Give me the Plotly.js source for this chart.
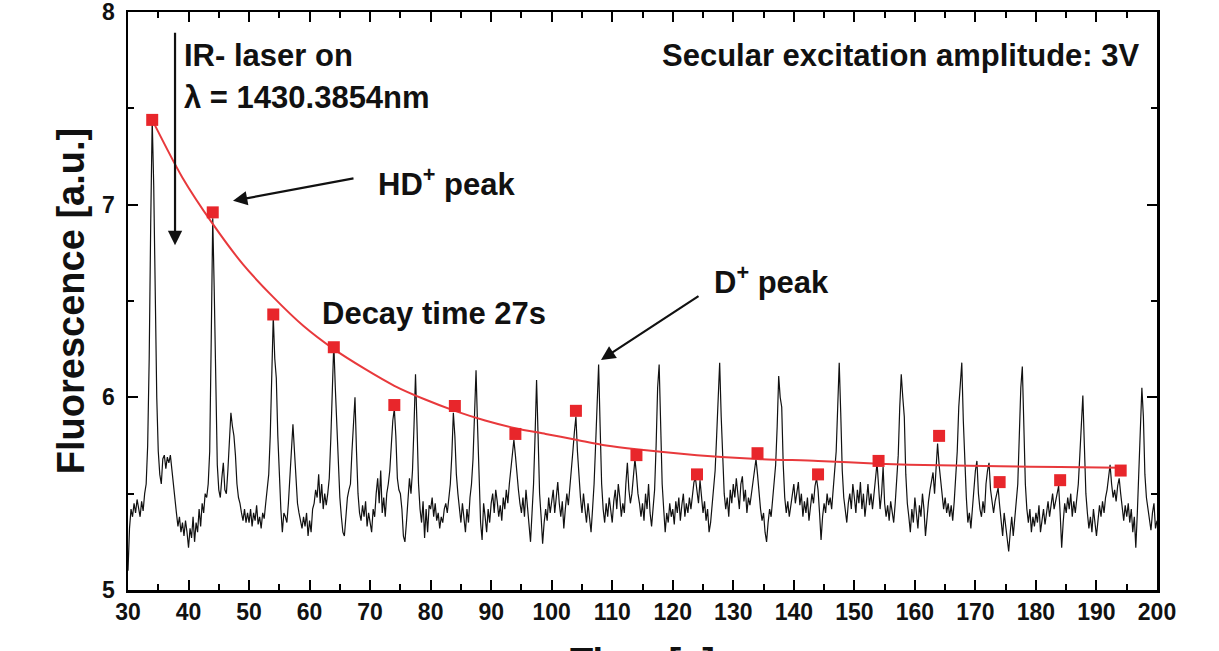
<!DOCTYPE html>
<html>
<head>
<meta charset="utf-8">
<script src="https://cdn.plot.ly/plotly-3.0.1.min.js"></script>
<style>html,body{margin:0;padding:0;background:#fff;}#chart{width:1219px;height:651px;}</style>
</head>
<body>
<div id="chart"></div>
<script>
const signalStart = 30;
const signalStep = 0.25;
const signal = [
5.10,5.32,5.42,5.38,5.45,5.40,5.47,5.43,5.38,5.46,5.41,5.50,5.55,5.75,6.20,6.90,7.44,7.10,6.50,6.00,
5.72,5.60,5.55,5.68,5.70,5.63,5.69,5.66,5.70,5.62,5.55,5.45,5.40,5.33,5.38,5.30,5.35,5.28,5.36,5.30,
5.22,5.32,5.27,5.38,5.25,5.35,5.30,5.42,5.33,5.45,5.40,5.50,5.48,5.55,5.72,6.30,6.93,6.55,5.95,5.65,
5.52,5.48,5.58,5.66,5.52,5.50,5.62,5.78,5.92,5.85,5.80,5.70,5.55,5.48,5.45,5.40,5.36,5.42,5.35,5.40,
5.35,5.42,5.33,5.40,5.36,5.44,5.34,5.38,5.32,5.40,5.37,5.45,5.52,5.60,5.80,6.15,6.42,6.20,6.10,5.80,
5.55,5.42,5.30,5.40,5.38,5.35,5.45,5.60,5.78,5.86,5.72,5.55,5.45,5.40,5.35,5.32,5.38,5.33,5.40,5.28,
5.36,5.30,5.42,5.45,5.52,5.48,5.60,5.45,5.55,5.42,5.50,5.44,5.50,5.58,5.78,6.10,6.28,6.05,5.85,5.58,
5.48,5.38,5.30,5.28,5.38,5.48,5.52,5.55,5.72,5.88,6.00,5.72,5.50,5.40,5.36,5.44,5.38,5.46,5.33,5.40,
5.35,5.30,5.42,5.38,5.50,5.58,5.45,5.62,5.40,5.48,5.38,5.50,5.55,5.62,5.75,5.88,5.94,5.80,5.58,5.52,
5.50,5.42,5.28,5.25,5.35,5.45,5.58,5.50,5.62,5.85,6.12,5.85,5.55,5.42,5.35,5.46,5.27,5.42,5.30,5.44,
5.42,5.48,5.38,5.45,5.36,5.40,5.32,5.38,5.35,5.42,5.45,5.40,5.50,5.55,5.70,5.92,5.80,5.60,5.50,5.42,
5.35,5.45,5.38,5.30,5.42,5.35,5.48,5.55,5.68,5.90,6.14,5.85,5.55,5.35,5.26,5.45,5.38,5.30,5.42,5.35,
5.45,5.50,5.40,5.52,5.46,5.38,5.44,5.36,5.48,5.42,5.52,5.45,5.55,5.62,5.72,5.78,5.70,5.60,5.52,5.45,
5.40,5.48,5.38,5.52,5.44,5.35,5.25,5.40,5.55,5.80,6.09,5.80,5.50,5.38,5.24,5.35,5.42,5.36,5.48,5.40,
5.45,5.52,5.40,5.48,5.56,5.45,5.38,5.46,5.32,5.42,5.50,5.44,5.55,5.62,5.72,5.82,5.90,5.72,5.58,5.48,
5.40,5.50,5.42,5.35,5.45,5.38,5.30,5.42,5.55,5.75,6.00,6.17,5.85,5.55,5.42,5.35,5.45,5.38,5.48,5.40,
5.35,5.46,5.52,5.42,5.55,5.48,5.38,5.45,5.40,5.55,5.66,5.52,5.45,5.50,5.58,5.68,5.60,5.50,5.45,5.38,
5.45,5.36,5.50,5.42,5.55,5.40,5.33,5.44,5.52,5.75,6.05,6.17,5.82,5.55,5.42,5.30,5.40,5.35,5.45,5.38,
5.42,5.34,5.46,5.40,5.48,5.36,5.44,5.50,5.38,5.45,5.40,5.48,5.42,5.50,5.56,5.58,5.50,5.45,5.57,5.48,
5.40,5.46,5.36,5.42,5.30,5.35,5.44,5.52,5.62,5.80,6.05,6.18,5.90,5.65,5.50,5.42,5.48,5.38,5.52,5.45,
5.55,5.48,5.58,5.50,5.42,5.55,5.59,5.46,5.52,5.40,5.48,5.44,5.50,5.55,5.62,5.68,5.60,5.50,5.42,5.36,
5.40,5.30,5.25,5.35,5.42,5.38,5.48,5.55,5.65,5.85,6.11,6.00,5.95,5.65,5.48,5.40,5.46,5.38,5.44,5.50,
5.55,5.45,5.52,5.56,5.44,5.50,5.38,5.46,5.40,5.48,5.36,5.44,5.50,5.45,5.54,5.58,5.52,5.40,5.26,5.38,
5.45,5.40,5.50,5.44,5.48,5.42,5.52,5.60,5.72,5.95,6.18,5.92,5.62,5.48,5.40,5.35,5.45,5.50,5.42,5.55,
5.48,5.40,5.52,5.45,5.56,5.42,5.50,5.38,5.46,5.55,5.44,5.50,5.42,5.52,5.58,5.66,5.55,5.42,5.50,5.64,
5.45,5.38,5.44,5.36,5.46,5.40,5.35,5.45,5.55,5.70,5.95,6.12,6.00,5.90,5.60,5.45,5.38,5.30,5.42,5.35,
5.48,5.40,5.32,5.44,5.38,5.50,5.42,5.28,5.40,5.46,5.52,5.58,5.61,5.50,5.62,5.76,5.65,5.58,5.48,5.42,
5.48,5.40,5.45,5.38,5.44,5.36,5.46,5.58,5.72,5.95,6.10,6.18,5.88,5.62,5.48,5.35,5.40,5.32,5.45,5.52,
5.62,5.67,5.50,5.42,5.38,5.46,5.40,5.55,5.62,5.66,5.52,5.45,5.40,5.46,5.50,5.53,5.44,5.36,5.28,5.40,
5.32,5.25,5.20,5.30,5.38,5.28,5.36,5.44,5.55,5.80,6.05,6.16,5.85,5.55,5.42,5.35,5.42,5.30,5.38,5.33,
5.40,5.35,5.44,5.30,5.36,5.42,5.34,5.40,5.46,5.38,5.44,5.50,5.42,5.46,5.52,5.54,5.40,5.22,5.35,5.45,
5.40,5.48,5.42,5.50,5.38,5.46,5.40,5.48,5.55,5.70,5.90,6.01,5.75,5.50,5.40,5.32,5.38,5.30,5.42,5.36,
5.28,5.36,5.44,5.38,5.46,5.40,5.48,5.52,5.58,5.65,5.55,5.48,5.52,5.46,5.54,5.58,5.50,5.42,5.36,5.44,
5.38,5.45,5.35,5.42,5.30,5.38,5.22,5.40,5.62,5.85,6.05,5.90,5.60,5.48,5.42,5.35,5.31,5.40,5.45,5.32,
5.36
];

// HD+ peak maxima (red squares)
const peakTimes  = [34, 44, 54, 64, 74, 84, 94, 104, 114, 124, 134, 144, 154, 164, 174, 184, 194];
const peakValues = [7.44, 6.96, 6.43, 6.26, 5.96, 5.955, 5.81, 5.93, 5.70, 5.60, 5.71, 5.60, 5.67, 5.80, 5.56, 5.57, 5.62];

// Exponential decay fit (red line)
const fitTimes  = [34, 39, 44, 49, 54, 59, 64, 69, 74, 79, 84, 89, 94, 99, 104, 109, 114, 124, 134, 144, 154, 164, 174, 184, 194];
const fitValues = [7.44, 7.14, 6.90, 6.69, 6.52, 6.37, 6.25, 6.15, 6.06, 5.99, 5.93, 5.88, 5.84, 5.81, 5.78, 5.75, 5.73, 5.70, 5.68, 5.67, 5.655, 5.647, 5.642, 5.638, 5.635];

const xRange = [30, 200];
const yRange = [5, 8];

const FONT = 'Liberation Sans, Arial, Helvetica, sans-serif';

const traces = [
  {
    type: 'scatter', mode: 'lines',
    x0: signalStart, dx: signalStep, y: signal,
    line: {color: '#111111', width: 1.2},
    hoverinfo: 'skip', showlegend: false
  },
  {
    type: 'scatter', mode: 'lines',
    x: fitTimes, y: fitValues,
    line: {color: '#e8393c', width: 2, shape: 'spline', smoothing: 0.8},
    showlegend: false
  },
  {
    type: 'scatter', mode: 'markers',
    x: peakTimes, y: peakValues,
    marker: {symbol: 'square', size: 12, color: '#e8262b'},
    showlegend: false
  }
];

const axisCommon = {
  showgrid: false, zeroline: false,
  showline: true, linecolor: '#000', linewidth: 2.5,
  mirror: 'ticks',
  ticks: 'inside', ticklen: 10, tickwidth: 2, tickcolor: '#000',
  ticklabeloverflow: 'allow',
  tickfont: {family: FONT, size: 23, color: '#111', weight: 'bold'},
};

const annText = (text, x, y, anchor) => ({
  text: text, x: x, y: y, xref: 'x', yref: 'y',
  xanchor: anchor, yanchor: 'middle', showarrow: false,
  font: {family: FONT, size: 31, color: '#111', weight: 'bold'}
});

const annArrow = (x, y, ax, ay) => ({
  text: '', x: x, y: y, ax: ax, ay: ay,
  xref: 'x', yref: 'y', axref: 'x', ayref: 'y',
  showarrow: true, arrowhead: 2, arrowsize: 1.3, arrowwidth: 2.2, arrowcolor: '#111'
});

const layout = {
  width: 1219, height: 651,
  margin: {l: 128, r: 62, t: 12, b: 61},
  paper_bgcolor: '#fff', plot_bgcolor: '#fff',
  xaxis: Object.assign({}, axisCommon, {
    range: xRange, dtick: 10, tick0: 30,
    minor: {dtick: 5, ticks: 'inside', ticklen: 6, tickwidth: 2, tickcolor: '#000'}
  }),
  yaxis: Object.assign({}, axisCommon, {
    range: yRange, dtick: 1, tick0: 5,
    ticklabelstandoff: 6,
    minor: {dtick: 0.5, ticks: 'inside', ticklen: 6, tickwidth: 2, tickcolor: '#000'},
    title: {text: 'Fluorescence [a.u.]', font: {family: FONT, size: 38, color: '#111', weight: 'bold'}, standoff: 6}
  }),
  annotations: [
    annText('IR- laser on', 38.9, 7.776, 'left'),
    annText('\u03bb = 1430.3854nm', 38.9, 7.558, 'left'),
    annText('HD<sup>+</sup> peak', 71.0, 7.117, 'left'),
    annText('Decay time 27s', 61.8, 6.437, 'left'),
    annText('D<sup>+</sup> peak', 126.4, 6.609, 'left'),
    annText('Secular excitation amplitude: 3V', 197.6, 7.776, 'right'),
    annArrow(37.77, 6.79, 37.77, 7.90),
    annArrow(47.35, 7.02, 67.5, 7.138),
    annArrow(108.14, 6.194, 124.5, 6.53),
    {
      text: 'Time [s]', x: 0.5, y: 0, xref: 'paper', yref: 'paper',
      xanchor: 'center', yanchor: 'top', yshift: -49, showarrow: false,
      font: {family: FONT, size: 38, color: '#111', weight: 'bold'}
    }
  ]
};

Plotly.newPlot('chart', traces, layout, {staticPlot: true, displayModeBar: false});
</script>
</body>
</html>
